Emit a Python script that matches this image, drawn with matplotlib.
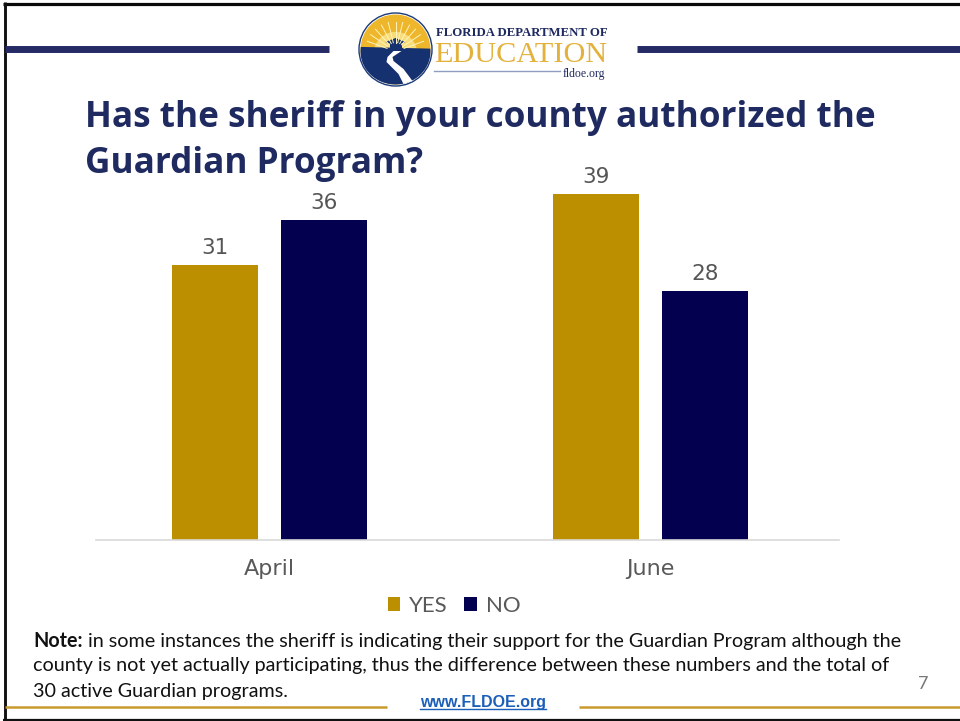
import matplotlib
matplotlib.use("Agg")
import matplotlib.pyplot as plt
from matplotlib.patches import Circle, Polygon, Wedge
import numpy as np

months = ["April", "June"]
yesCounts = [31, 39]
noCounts = [36, 28]

GOLD = "#BC8F00"
NAVY = "#03004F"
TITLE_BLUE = "#1F2A60"
LINE_BLUE = "#262B66"
RULE_GOLD = "#C99A2E"
BAR_WIDTH = 0.2257
OFFSET = 0.143
NOTE_SIZE = 14.25

plt.rcParams['font.family'] = ['Lato', 'DejaVu Sans']

fig = plt.figure(figsize=(9.6, 7.21), dpi=100)

# slide furniture, in pixel coordinates
bg = fig.add_axes([0, 0, 1, 1])
bg.set_xlim(0, 960)
bg.set_ylim(721, 0)
bg.axis("off")

bg.plot([3, 960], [3.5, 3.5], color="#0A0A0A", lw=2.3, solid_capstyle="butt")
bg.plot([4.5, 4.5], [2, 721], color="#111111", lw=2.1, solid_capstyle="butt")
bg.plot([3, 960], [720, 720], color="#111111", lw=1.6, solid_capstyle="butt")
bg.plot([5, 329], [48.5, 48.5], color=LINE_BLUE, lw=5, solid_capstyle="butt")
bg.plot([637, 960], [48.5, 48.5], color=LINE_BLUE, lw=5, solid_capstyle="butt")
bg.plot([5, 387], [707, 707], color=RULE_GOLD, lw=1.8, solid_capstyle="butt")
bg.plot([579, 960], [707, 707], color=RULE_GOLD, lw=1.8, solid_capstyle="butt")

# logo
cx, cy, r = 395.5, 49.5, 35
bg.add_patch(Circle((cx, cy), r + 1.5, fc="white", ec="#1B3A78", lw=1))
bg.add_patch(Circle((cx, cy), r, fc="#EDB62B", ec="none"))
bg.add_patch(Wedge((cx, cy + 4), r * 0.62, 180, 360, fc="#F8DC78", ec="none"))
for ang in np.radians(np.arange(200, 345, 14)):
    bg.plot([cx + 9 * np.cos(ang), cx + 30 * np.cos(ang)], [cy + 2 + 9 * np.sin(ang), cy + 2 + 30 * np.sin(ang)],
            color="#FFF3C0", lw=0.7)
arc = np.radians(np.linspace(-5, 188, 50))
bg.add_patch(Polygon(np.column_stack([cx + r * np.cos(arc), cy + 2 + (r - 2) * np.sin(arc)]), fc="#16316F", ec="none"))
bg.add_patch(Polygon([[cx - 2, 51], [cx + 6, 51], [cx - 3, 57], [cx - 2, 61], [cx + 8, 69], [cx + 17, 81], [cx + 8, 84],
                      [cx + 3, 74], [cx - 9, 62], [cx - 8, 57]], fc="white", ec="none"))
bg.add_patch(Polygon([[cx - 10, 42], [cx, 38], [cx + 10, 42], [cx, 46]], fc="#16316F", ec="none"))
bg.add_patch(Polygon([[cx - 6, 44], [cx + 6, 44], [cx + 6, 49], [cx - 6, 49]], fc="#16316F", ec="none"))
bg.text(436, 33, "FLORIDA DEPARTMENT OF", family="Liberation Serif", fontsize=9.2, color="#1F2A60",
        va="center", ha="left", fontweight="bold")
bg.text(434, 55, "EDUCATION", family="Liberation Serif", fontsize=21.8, color="#E3B23C", va="center", ha="left")
bg.plot([434, 560], [71, 71], color="#8F9DBF", lw=1)
bg.text(563, 73.5, "fldoe.org", family="Liberation Serif", fontsize=8.5, color="#1F2A60", va="center", ha="left")

bg.text(85, 118, "Has the sheriff in your county authorized the", family="Open Sans", fontsize=25.3,
        fontweight="bold", color=TITLE_BLUE, va="center", ha="left")
bg.text(85, 164, "Guardian Program?", family="Open Sans", fontsize=25.3,
        fontweight="bold", color=TITLE_BLUE, va="center", ha="left")

bg.text(33, 641, "Note:", fontsize=NOTE_SIZE, fontweight="bold", color="#111111", va="center", ha="left")
bg.text(88, 641, "in some instances the sheriff is indicating their support for the Guardian Program although the",
        fontsize=NOTE_SIZE, color="#111111", va="center", ha="left")
bg.text(33, 666, "county is not yet actually participating, thus the difference between these numbers and the total of",
        fontsize=NOTE_SIZE, color="#111111", va="center", ha="left")
bg.text(33, 692, "30 active Guardian programs.", fontsize=NOTE_SIZE, color="#111111", va="center", ha="left")
bg.text(483, 702, "www.FLDOE.org", family="Liberation Sans", fontsize=11.5, fontweight="bold",
        color="#1C5FB8", va="center", ha="center")
bg.plot([420, 546], [709, 709], color="#1C5FB8", lw=1)
bg.text(923, 684, "7", fontsize=13, color="#777777", va="center", ha="center")

# chart
ax = fig.add_axes([96 / 960, 1 - 540 / 721, (839 - 96) / 960, 350 / 721])
ax.patch.set_alpha(0)
x = np.arange(len(months))
yesBars = ax.bar(x - OFFSET, yesCounts, BAR_WIDTH, color=GOLD, label="YES")
noBars = ax.bar(x + OFFSET, noCounts, BAR_WIDTH, color=NAVY, label="NO")
ax.bar_label(yesBars, padding=5, fontsize=15.5, color="#555555", family="DejaVu Sans")
ax.bar_label(noBars, padding=5, fontsize=15.5, color="#555555", family="DejaVu Sans")
ax.set_xlim(-0.455, 1.495)
ax.set_ylim(0, 350 / 8.88)
ax.set_yticks([])
ax.set_xticks(x)
ax.set_xticklabels(months, fontsize=16, color="#595959", family="DejaVu Sans")
ax.tick_params(axis="x", length=0, pad=14)
for side in ["top", "left", "right"]:
    ax.spines[side].set_visible(False)
ax.spines["bottom"].set_color("#D9D9D9")
ax.spines["bottom"].set_linewidth(1.2)

fig.legend(handles=[yesBars, noBars], labels=["YES", "NO"], loc="center", bbox_to_anchor=(454 / 960, 1 - 606 / 721),
           ncol=2, frameon=False, fontsize=16, labelcolor="#595959", handlelength=0.56, handleheight=0.55,
           handletextpad=0.4, columnspacing=0.75)

fig.savefig("out.png", dpi=100)
